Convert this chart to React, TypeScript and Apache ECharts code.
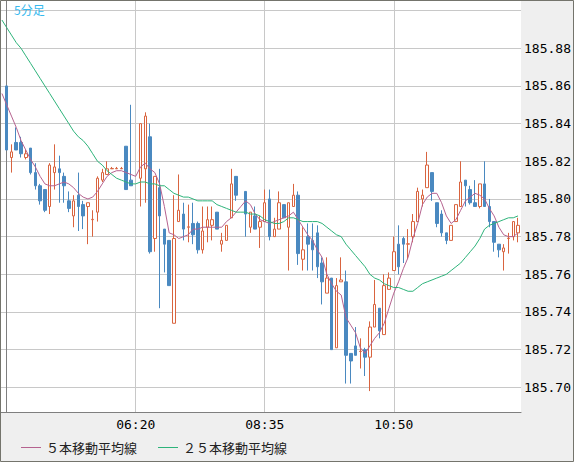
import React, { useEffect, useRef } from 'react';
import * as echarts from 'echarts';

// Candles: index 0 = 04:05, one bar every 5 minutes (null = no bar)
const opens = [
  185.860, 185.822, 185.830, 185.830, 185.822, 185.827, 185.814, 185.807, 185.805, 185.796,
  185.814, 185.816, 185.812, 185.799, 185.791, 185.802, 185.797, 185.796, 185.789, 185.793,
  185.810, 185.813, 185.816, 185.816, 185.816, 185.828, 185.810, null, 185.811, 185.816,
  185.833, 185.779, 185.806, 185.784, 185.778, 185.734, 185.788, 185.792, 185.785, 185.787,
  185.787, 185.773, 185.785, 185.786, 185.793, 185.776, 185.778, 185.790, 185.812, null,
  185.804, 185.785, 185.791, 185.785, 185.788, 185.800, 185.780, 185.784, 185.797, 185.785,
  185.796, 185.802, 185.768, 185.780, 185.778, 185.782, 185.766, 185.750, 185.758, 185.721,
  185.756, 185.756, 185.718, 185.722, 185.719, 185.720, 185.716, 185.732, 185.742, 185.728,
  185.752, 185.762, 185.776, 185.779, 185.776, 185.780, 185.788, 185.800, 185.806, 185.814,
  185.798, 185.792, 185.782, 185.778, 185.788, 185.796, 185.810, 185.805, 185.798, 185.796,
  185.808, 185.796, 185.788, 185.776, 185.772, 185.779, 185.780, 185.782
];
const closes = [
  185.826, 185.825, 185.826, 185.824, 185.824, 185.814, 185.807, 185.799, 185.794, 185.818,
  185.817, 185.814, 185.807, 185.795, 185.799, 185.796, 185.791, 185.798, 185.7892, 185.811,
  185.814, 185.816, 185.8162, 185.8162, 185.8162, 185.805, 185.807, null, 185.840, 185.844,
  185.772, 185.812, 185.791, 185.776, 185.754, 185.779, 185.794, 185.784, 185.7852, 185.781,
  185.773, 185.783, 185.789, 185.789, 185.784, 185.778, 185.786, 185.808, 185.802, null,
  185.792, 185.793, 185.784, 185.788, 185.798, 185.780, 185.784, 185.798, 185.790, 185.798,
  185.802, 185.771, 185.773, 185.776, 185.773, 185.764, 185.756, 185.758, 185.720, 185.754,
  185.757, 185.717, 185.714, 185.717, 185.7192, 185.716, 185.732, 185.744, 185.730, 185.754,
  185.758, 185.772, 185.764, 185.776, 185.7762, 185.788, 185.804, 185.802, 185.818, 185.804,
  185.787, 185.782, 185.778, 185.786, 185.797, 185.809, 185.807, 185.798, 185.796, 185.808,
  185.796, 185.788, 185.777, 185.773, 185.774, 185.7792, 185.788, 185.786
];
const lows = [
  185.826, 185.814, 185.826, 185.822, 185.821, 185.813, 185.805, 185.797, 185.793, 185.792,
  185.805, 185.798, 185.798, 185.793, 185.785, 185.783, 185.784, 185.776, 185.780, 185.788,
  185.809, 185.813, 185.816, 185.816, 185.816, 185.805, 185.807, null, 185.796, 185.798,
  185.771, 185.772, 185.742, 185.761, 185.754, 185.734, 185.788, 185.778, 185.777, 185.776,
  185.771, 185.771, 185.777, 185.778, 185.784, 185.772, 185.778, 185.790, 185.799, null,
  185.780, 185.782, 185.784, 185.774, 185.788, 185.778, 185.780, 185.784, 185.790, 185.762,
  185.796, 185.765, 185.762, 185.762, 185.762, 185.758, 185.744, 185.750, 185.720, 185.721,
  185.756, 185.702, 185.702, 185.717, 185.710, 185.706, 185.698, 185.732, 185.726, 185.728,
  185.752, 185.762, 185.760, 185.766, 185.768, 185.777, 185.788, 185.796, 185.806, 185.799,
  185.785, 185.780, 185.776, 185.778, 185.788, 185.796, 185.796, 185.797, 185.796, 185.795,
  185.796, 185.785, 185.772, 185.769, 185.762, 185.771, 185.778, 185.777
];
const highs = [
  185.860, 185.829, 185.838, 185.833, 185.826, 185.827, 185.819, 185.808, 185.805, 185.819,
  185.829, 185.823, 185.814, 185.804, 185.802, 185.814, 185.799, 185.798, 185.794, 185.812,
  185.816, 185.820, 185.817, 185.817, 185.817, 185.828, 185.850, null, 185.840, 185.846,
  185.840, 185.812, 185.816, 185.784, 185.778, 185.802, 185.813, 185.798, 185.797, 185.798,
  185.788, 185.796, 185.796, 185.796, 185.793, 185.782, 185.786, 185.816, 185.812, null,
  185.804, 185.793, 185.796, 185.791, 185.805, 185.805, 185.790, 185.804, 185.797, 185.798,
  185.808, 185.804, 185.785, 185.787, 185.787, 185.786, 185.769, 185.769, 185.758, 185.758,
  185.769, 185.762, 185.718, 185.732, 185.726, 185.721, 185.735, 185.757, 185.742, 185.760,
  185.761, 185.780, 185.786, 185.780, 185.784, 185.792, 185.806, 185.805, 185.825, 185.814,
  185.798, 185.794, 185.782, 185.786, 185.797, 185.820, 185.810, 185.807, 185.810, 185.808,
  185.820, 185.800, 185.788, 185.776, 185.776, 185.782, 185.788, 185.790
];

// Moving averages, first value sits one bar before candle 0
const MA_START = -1;
const ma5 = [
  185.856,
  185.850, 185.844, 185.838, 185.831, 185.826, 185.821, 185.817, 185.812, 185.808, 185.807,
  185.807, 185.808, 185.809, 185.808, 185.806, 185.803, 185.801, 185.800, 185.801, 185.804,
  185.808, 185.812, 185.814, 185.815, 185.815, 185.814, 185.813, 185.812, 185.817, 185.819,
  185.816, 185.814, 185.808, 185.796, 185.782, 185.781, 185.779, 185.780, 185.781, 185.784,
  185.784, 185.785, 185.785, 185.785, 185.785, 185.785, 185.788, 185.790, 185.793, 185.796,
  185.799, 185.797, 185.792, 185.789, 185.788, 185.787, 185.788, 185.789, 185.790, 185.791,
  185.793, 185.789, 185.785, 185.781, 185.778, 185.773, 185.769, 185.760, 185.755, 185.751,
  185.749, 185.737, 185.733, 185.729, 185.721, 185.718, 185.722, 185.726, 185.729, 185.734,
  185.742, 185.750, 185.756, 185.763, 185.769, 185.779, 185.787, 185.797, 185.801, 185.803,
  185.803, 185.798, 185.791, 185.787, 185.789, 185.794, 185.799, 185.801, 185.803, 185.802,
  185.800, 185.795, 185.791, 185.785, 185.781, 185.780, 185.780, 185.782
];
const ma25 = [
  185.895,
  185.891, 185.887, 185.883, 185.880, 185.876, 185.872, 185.868, 185.864, 185.860, 185.856,
  185.852, 185.848, 185.844, 185.840, 185.836, 185.833, 185.831, 185.828, 185.824, 185.820,
  185.818, 185.815, 185.813, 185.811, 185.810, 185.809, 185.808, 185.808, 185.809, 185.809,
  185.808, 185.808, 185.807, 185.807, 185.805, 185.803, 185.802, 185.801, 185.801, 185.800,
  185.799, 185.799, 185.799, 185.799, 185.797, 185.796, 185.795, 185.794, 185.793, 185.793,
  185.793, 185.792, 185.792, 185.791, 185.789, 185.788, 185.787, 185.787, 185.788, 185.790,
  185.790, 185.789, 185.788, 185.788, 185.788, 185.788, 185.787, 185.785, 185.783, 185.781,
  185.780, 185.776, 185.773, 185.770, 185.767, 185.764, 185.760, 185.758, 185.757, 185.755,
  185.754, 185.753, 185.753, 185.752, 185.751, 185.751, 185.753, 185.755, 185.756, 185.757,
  185.758, 185.759, 185.760, 185.762, 185.764, 185.766, 185.769, 185.772, 185.775, 185.779,
  185.784, 185.786, 185.787, 185.788, 185.789, 185.790, 185.790, 185.791
];

const timeTickIndex = [27, 54, 81];
const timeTickLabels = ['06:20', '08:35', '10:50'];
const priceLabels = ['185.70', '185.72', '185.74', '185.76', '185.78', '185.80', '185.82', '185.84', '185.86', '185.88'];
const seriesNames = ['５本移動平均線', '２５本移動平均線'];
const periodLabel = '5分足';

const UP = '#d9643f';
const DOWN = '#4a89c0';
const MA5_COLOR = '#b5628f';
const MA25_COLOR = '#2db37a';

export default function App() {
  const ref = useRef<HTMLDivElement>(null);
  useEffect(() => {
    if (!ref.current) return;
    const chart = echarts.init(ref.current, null, { renderer: 'svg' });
    const candles: number[][] = [];
    opens.forEach((o, i) => {
      if (o == null) return;
      candles.push([i, o as number, closes[i] as number, lows[i] as number, highs[i] as number]);
    });
    const ma5Data = ma5.map((v, k) => [k + MA_START, v]);
    const ma25Data = ma25.map((v, k) => [k + MA_START, v]);

    chart.setOption({
      animation: false,
      backgroundColor: '#efefef',
      grid: {
        left: 1, top: 1, right: 51, bottom: 50,
        show: true, backgroundColor: '#ffffff', borderWidth: 0,
      },
      xAxis: {
        type: 'value',
        min: -1.19,
        max: 107.63,
        minInterval: 27,
        maxInterval: 27,
        axisLine: { show: true, lineStyle: { color: '#7f7f7f', width: 1 } },
        axisTick: { show: false },
        splitLine: { show: true, showMinLine: false, showMaxLine: false, lineStyle: { color: '#c8c8c8', width: 1 } },
        axisLabel: {
          showMinLabel: false, showMaxLabel: false,
          margin: 6, color: '#000', fontSize: 13, fontFamily: 'DejaVu Sans Mono',
          formatter: (v: number) => {
            for (let k = 0; k < timeTickIndex.length; k++) {
              if (Math.abs(v - timeTickIndex[k]) < 1e-6) return timeTickLabels[k];
            }
            return '';
          },
        },
      },
      yAxis: {
        type: 'value',
        position: 'right',
        min: 185.6869,
        max: 185.9051,
        minInterval: 0.02,
        maxInterval: 0.02,
        axisLine: { show: true, lineStyle: { color: '#7f7f7f', width: 1 } },
        axisTick: { show: false },
        splitLine: { show: true, showMinLine: false, showMaxLine: false, lineStyle: { color: '#c8c8c8', width: 1 } },
        axisLabel: {
          showMinLabel: false, showMaxLabel: false,
          margin: 3, color: '#000', fontSize: 13, fontFamily: 'DejaVu Sans Mono',
          formatter: (v: number) => {
            const s = v.toFixed(2);
            return priceLabels.includes(s) ? s : '';
          },
        },
      },
      legend: {
        show: true,
        left: 16,
        top: 436,
        icon: 'rect',
        itemWidth: 20,
        itemHeight: 1,
        itemGap: 21,
        data: [
          { name: seriesNames[0], itemStyle: { color: MA5_COLOR } },
          { name: seriesNames[1], itemStyle: { color: MA25_COLOR } },
        ],
        textStyle: { fontSize: 13, fontFamily: 'Noto Sans CJK JP', color: '#222' },
        selectedMode: false,
      },
      graphic: [
        {
          type: 'rect', silent: true, z: 100,
          shape: { x: 0.5, y: 0.5, width: 573, height: 461 },
          style: { fill: 'none', stroke: '#74746c', lineWidth: 1 },
        },
        {
          type: 'text', left: 14, top: 3, z: 100,
          style: { text: periodLabel, fill: '#36b9ee', fontSize: 12, fontFamily: 'Noto Sans CJK JP' },
        },
      ],
      series: [
        {
          type: 'candlestick',
          data: candles,
          encode: { x: 0, y: [1, 2, 3, 4] },
          barWidth: 3,
          itemStyle: {
            color: '#ffffff', color0: DOWN,
            borderColor: UP, borderColor0: DOWN, borderWidth: 1,
          },
          z: 2,
        },
        {
          name: seriesNames[0], type: 'line', data: ma5Data, showSymbol: false, symbol: 'none',
          lineStyle: { color: MA5_COLOR, width: 1 }, itemStyle: { color: MA5_COLOR }, z: 3,
        },
        {
          name: seriesNames[1], type: 'line', data: ma25Data, showSymbol: false, symbol: 'none',
          lineStyle: { color: MA25_COLOR, width: 1 }, itemStyle: { color: MA25_COLOR }, z: 4,
        },
      ],
    });
    return () => chart.dispose();
  }, []);
  return <div ref={ref} style={{ position: 'fixed', left: 0, top: 0, width: 574, height: 462 }} />;
}
